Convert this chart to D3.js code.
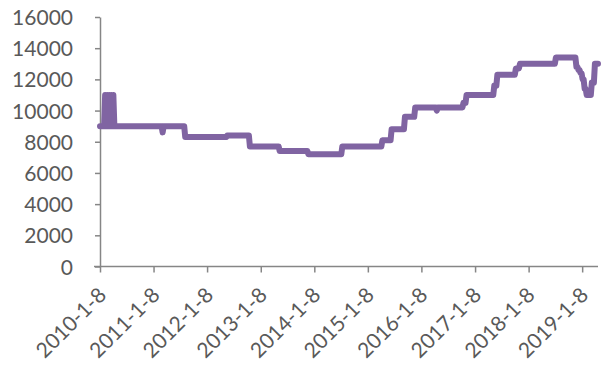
<!DOCTYPE html>
<html>
<head>
<meta charset="utf-8">
<script src="https://cdn.jsdelivr.net/npm/d3@7"></script>
<style>
  html, body { margin: 0; padding: 0; background: #ffffff; }
  svg { display: block; }
  .axis text { font-family: Lato, "Open Sans", sans-serif; font-size: 21px; fill: #595959; }
  .axis path, .axis line { stroke: #868686; stroke-width: 1.5; }
</style>
</head>
<body>
<svg id="chart" width="604" height="365"></svg>
<script>
// Weekly price series, stored as the dates where the level changes
const changeDates = [
  "2010-01-08", "2010-02-12", "2010-02-19", "2010-02-26", "2010-03-05",
  "2010-03-12", "2010-03-19", "2010-03-26", "2010-04-02", "2010-04-09",
  "2010-04-16", "2011-03-11", "2011-03-18", "2011-08-12", "2012-05-25",
  "2012-10-26", "2013-05-17", "2013-11-29", "2014-07-18", "2015-04-17",
  "2015-06-19", "2015-09-18", "2015-11-27", "2016-04-22", "2016-04-29",
  "2016-10-21", "2016-11-11", "2017-05-19", "2017-06-09", "2017-10-13",
  "2017-11-10", "2018-07-13", "2018-11-30", "2018-12-14", "2018-12-28",
  "2019-01-11", "2019-01-25", "2019-02-08", "2019-03-15", "2019-04-05",
  "2019-04-26"
];
const changeValues = [
  9000, 11000, 9000, 11000, 9000,
  11000, 9000, 11000, 9000, 11000,
  9000, 8600, 9000, 8300, 8400,
  7700, 7400, 7200, 7700, 8100,
  8800, 9600, 10200, 10000, 10200,
  10500, 11000, 11600, 12300, 12700,
  13000, 13400, 12800, 12600, 12400,
  12000, 11400, 11000, 11800, 13000,
  13000
];

// Axis ticks
const xTickDates = [
  "2010-01-08", "2011-01-08", "2012-01-08", "2013-01-08", "2014-01-08",
  "2015-01-08", "2016-01-08", "2017-01-08", "2018-01-08", "2019-01-08"
];
const xTickLabels = [
  "2010-1-8", "2011-1-8", "2012-1-8", "2013-1-8", "2014-1-8",
  "2015-1-8", "2016-1-8", "2017-1-8", "2018-1-8", "2019-1-8"
];
const yTicks = [0, 2000, 4000, 6000, 8000, 10000, 12000, 14000, 16000];

const parse = d3.timeParse("%Y-%m-%d");
const tickDates = xTickDates.map(parse);

// Each level holds until the week before the next change, then the line
// moves to the new level over one weekly interval.
const WEEK = 7 * 24 * 3600 * 1000;
const points = [];
changeDates.forEach((d, i) => {
  const date = parse(d);
  if (i > 0 && changeValues[i] !== changeValues[i - 1]) {
    const prevHoldEnd = new Date(date.getTime() - WEEK);
    if (prevHoldEnd > points[points.length - 1].date) {
      points.push({ date: prevHoldEnd, value: changeValues[i - 1] });
    }
  }
  points.push({ date, value: changeValues[i] });
});

const svg = d3.select("#chart");

const x = d3.scaleTime()
  .domain([parse("2010-01-08"), parse("2019-04-26")])
  .range([100, 598]);

const y = d3.scaleLinear()
  .domain([0, 16000])
  .range([266.5, 17]);

// Y axis
const yAxis = d3.axisLeft(y)
  .tickValues(yTicks)
  .tickFormat(d => String(d))
  .tickSize(5)
  .tickSizeOuter(0)
  .tickPadding(22);

svg.append("g")
  .attr("class", "axis y-axis")
  .attr("transform", "translate(100,0)")
  .call(yAxis)
  .selectAll("text")
  .attr("dy", "0.36em");

// X axis with slanted date labels
const xAxis = d3.axisBottom(x)
  .tickValues(tickDates)
  .tickFormat((d, i) => xTickLabels[i])
  .tickSize(6)
  .tickSizeOuter(0);

const gx = svg.append("g")
  .attr("class", "axis x-axis")
  .attr("transform", "translate(0,266.5)")
  .call(xAxis);

gx.select(".domain").attr("d", "M94,0H598");

gx.selectAll("text")
  .attr("x", 0)
  .attr("y", 0)
  .attr("dy", 0)
  .attr("text-anchor", "end")
  .attr("transform", "translate(7,30) rotate(-45)");

// Price line
const line = d3.line()
  .x(d => x(d.date))
  .y(d => y(d.value));

svg.append("path")
  .datum(points)
  .attr("fill", "none")
  .attr("stroke", "#8064a2")
  .attr("stroke-width", 6)
  .attr("stroke-linejoin", "round")
  .attr("stroke-linecap", "round")
  .attr("d", line);
</script>
</body>
</html>
